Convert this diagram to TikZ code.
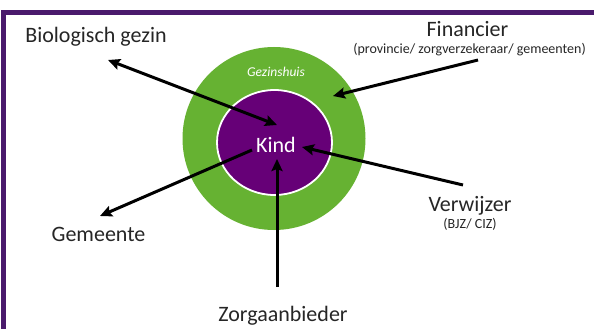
\documentclass[tikz,border=0pt]{standalone}
\usepackage{fontspec}
\setmainfont{Carlito}
\usetikzlibrary{arrows.meta,shapes.geometric}
\definecolor{ringgreen}{HTML}{66B232}
\definecolor{kidpurple}{HTML}{660077}
\definecolor{framepurple}{HTML}{4A1A6C}
\definecolor{txt}{HTML}{262626}
\begin{document}
\begin{tikzpicture}[x=1pt,y=-1pt,
  lbl/.style={text=txt, inner sep=0pt, anchor=base, font=\fontsize{22}{26}\selectfont},
  sublbl/.style={text=txt, inner sep=0pt, anchor=base, font=\fontsize{14}{16}\selectfont},
  tipstyle/.tip={Stealth[length=12pt,width=11pt,inset=2pt]},
  arr/.style={line width=3pt, -tipstyle},
  dblarr/.style={line width=3pt, tipstyle-tipstyle},
]
\useasboundingbox (0,0) rectangle (594,329);
\fill[white] (0,0) rectangle (594,329);
\fill[framepurple] (1,10) rectangle (594,15);
\fill[framepurple] (1,10) rectangle (6,329);

\node[circle, fill=ringgreen, minimum size=183pt, inner sep=0pt] (house) at (274,138.5) {};
\node[ellipse, fill=kidpurple, draw=white, line width=1.8pt, minimum width=115pt, minimum height=105pt, inner sep=0pt] (kid) at (274.5,142.5) {};
\node[text=white, inner sep=0pt, anchor=base, font=\fontsize{22}{26}\selectfont] (kind) at (276,152) {Kind};
\node[text=white, inner sep=0pt, anchor=base, font=\fontsize{13.5}{15}\selectfont\itshape] (gh) at (276,77) {Gezinshuis};

\node[lbl] (bio) at (96,43) {Biologisch gezin};
\node[lbl] (fin) at (467.5,37) {Financier};
\node[sublbl] (finsub) at (469.5,54) {(provincie/ zorgverzekeraar/ gemeenten)};
\node[lbl] (ver) at (470,211) {Verwijzer};
\node[sublbl] (versub) at (470,228) {(BJZ/ CIZ)};
\node[lbl] (gem) at (98.5,241.5) {Gemeente};
\node[lbl] (zorg) at (283,321.5) {Zorgaanbieder};

\coordinate (bioend) at (108,60);
\coordinate (kidA) at (277,125);
\coordinate (finstart) at (478,60);
\coordinate (ringpt) at (333,96);
\coordinate (verstart) at (463,185);
\coordinate (kidB) at (302,147);
\coordinate (kidC) at (252,150);
\coordinate (gemend) at (100,216);
\coordinate (zorgstart) at (277,287);
\coordinate (kidD) at (277,159);

\draw[dblarr] (bioend) -- (kidA);
\draw[arr] (finstart) -- (ringpt);
\draw[arr] (verstart) -- (kidB);
\draw[arr] (kidC) -- (gemend);
\draw[arr] (zorgstart) -- (kidD);
\end{tikzpicture}
\end{document}
